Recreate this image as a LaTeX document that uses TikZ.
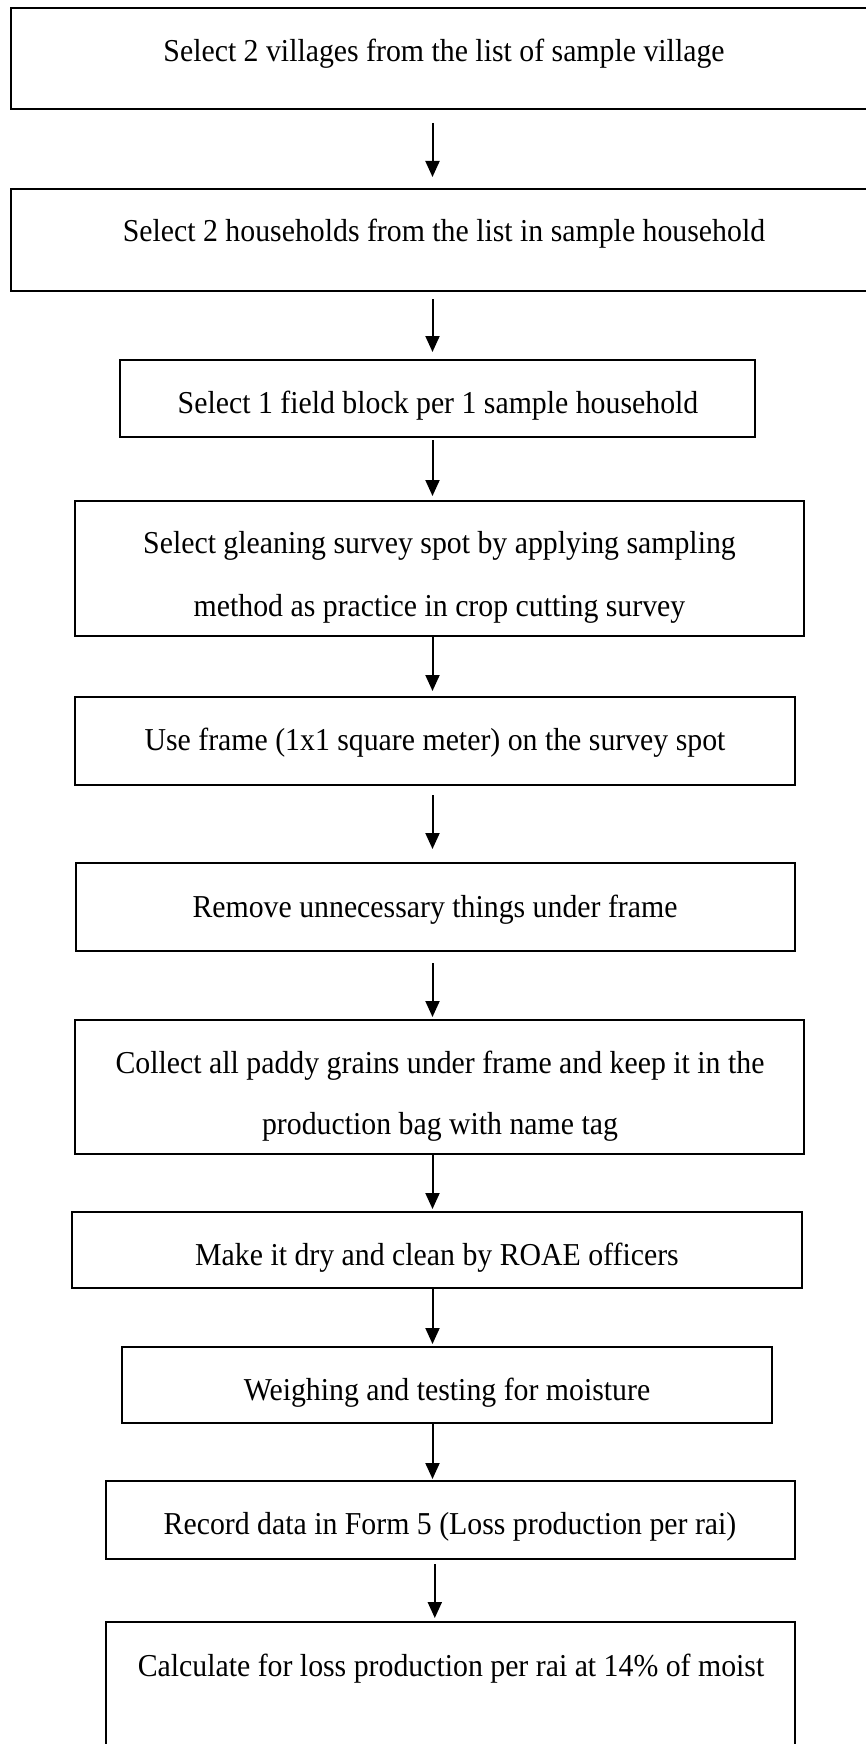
\documentclass[tikz,border=0pt]{standalone}
\usepackage{fontspec}
\usepackage{graphicx}
\setmainfont{Liberation Serif}
\usetikzlibrary{arrows.meta,fit}
\newcommand{\vstretch}[1]{\scalebox{1}[1.07]{#1}}
\begin{document}
\begin{tikzpicture}[x=1pt,y=-1pt,
  box/.style={draw=black,line width=2pt,inner sep=0pt,fill=none},
  txt/.style={anchor=base,inner sep=0pt,font=\fontsize{29.8}{36}\selectfont},
  arr/.style={line width=2pt,-{Triangle[length=16pt,width=14pt]}}]
\useasboundingbox[fill=white] (0,0) rectangle (866,1744);
\coordinate (ax) at (432.5,0);
\coordinate (bx) at (434.8,0);
% boxes
\node[box,fit={(11,8) (880,109)}] (b1) {};
\node[box,fit={(11,189) (880,291)}] (b2) {};
\node[box,fit={(120,360) (755,437)}] (b3) {};
\node[box,fit={(74.6,501) (804.4,636)}] (b4) {};
\node[box,fit={(74.6,697) (794.5,785)}] (b5) {};
\node[box,fit={(76,863) (794.5,951)}] (b6) {};
\node[box,fit={(74.6,1020) (804.4,1154)}] (b7) {};
\node[box,fit={(72.4,1212) (802,1288)}] (b8) {};
\node[box,fit={(121.5,1347) (772,1423)}] (b9) {};
\node[box,fit={(105.5,1481) (794.5,1559)}] (b10) {};
\node[box,fit={(105.5,1622) (794.5,1770)}] (b11) {};
% texts
\node[txt] (t1) at (444,62) {\vstretch{Select 2 villages from the list of sample village}};
\node[txt] (t2) at (444,242) {\vstretch{Select 2 households from the list in sample household}};
\node[txt] (t3) at (438,413) {\vstretch{Select 1 field block per 1 sample household}};
\node[txt] (t4a) at (439.5,553) {\vstretch{Select gleaning survey spot by applying sampling}};
\node[txt] (t4b) at (439.5,616) {\vstretch{method as practice in crop cutting survey}};
\node[txt] (t5) at (435,750) {\vstretch{Use frame (1x1 square meter) on the survey spot}};
\node[txt] (t6) at (435,917) {\vstretch{Remove unnecessary things under frame}};
\node[txt] (t7a) at (440,1073) {\vstretch{Collect all paddy grains under frame and keep it in the}};
\node[txt] (t7b) at (440,1134) {\vstretch{production bag with name tag}};
\node[txt] (t8) at (437,1265) {\vstretch{Make it dry and clean by ROAE officers}};
\node[txt] (t9) at (447,1400) {\vstretch{Weighing and testing for moisture}};
\node[txt] (t10) at (450,1534) {\vstretch{Record data in Form 5 (Loss production per rai)}};
\node[txt] (t11) at (451,1676) {\vstretch{Calculate for loss production per rai at 14\% of moist}};
% arrows
\draw[arr,shorten <=13pt,shorten >=11pt] (b1.south -| ax) -- (b2.north -| ax);
\draw[arr,shorten <=7pt,shorten >=7pt] (b2.south -| ax) -- (b3.north -| ax);
\draw[arr,shorten <=2pt,shorten >=4pt] (b3.south -| ax) -- (b4.north -| ax);
\draw[arr,shorten >=5pt] (b4.south -| ax) -- (b5.north -| ax);
\draw[arr,shorten <=9pt,shorten >=13pt] (b5.south -| ax) -- (b6.north -| ax);
\draw[arr,shorten <=11pt,shorten >=2pt] (b6.south -| ax) -- (b7.north -| ax);
\draw[arr,shorten >=2pt] (b7.south -| ax) -- (b8.north -| ax);
\draw[arr,shorten >=2pt] (b8.south -| ax) -- (b9.north -| ax);
\draw[arr,shorten >=1pt] (b9.south -| ax) -- (b10.north -| ax);
\draw[arr,shorten <=4pt,shorten >=3pt] (b10.south -| bx) -- (b11.north -| bx);
\end{tikzpicture}
\end{document}
